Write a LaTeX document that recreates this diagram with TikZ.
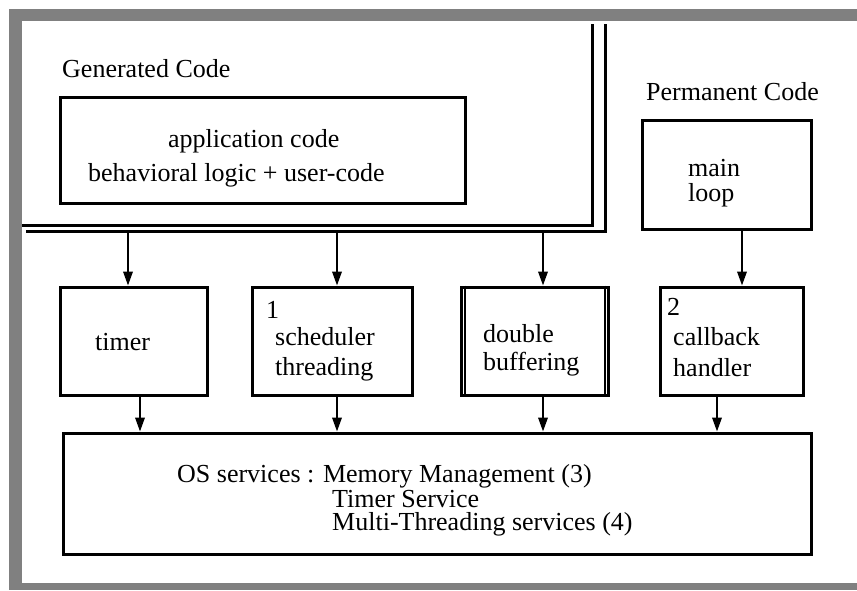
\documentclass[tikz,border=0pt]{standalone}
\usepackage{fontspec}
\setmainfont{Liberation Serif}
\usetikzlibrary{arrows.meta}
\begin{document}
\begin{tikzpicture}[x=1pt,y=-1pt,
  boxnode/.style={draw=black,line width=3pt,inner sep=0pt,fill=white},
  txt/.style={inner sep=0pt,anchor=base west,font=\fontsize{26}{30}\selectfont},
  arr/.style={line width=2pt,-{Triangle[length=14pt,width=9.5pt]}},
  dline/.style={line width=3pt}]
\useasboundingbox (0,0) rectangle (857,590);
% frame
\fill[gray] (9,9) rectangle (857,590);
\fill[white] (22,21) rectangle (857,583);
% double boundary of generated code area
\coordinate (h1a) at (22,225);
\coordinate (h1b) at (592,225);
\coordinate (v1t) at (592,24);
\coordinate (h2a) at (26,231);
\coordinate (h2b) at (605,231);
\coordinate (v2t) at (605,24);
\draw[dline] (h1a) -- (h1b) -- (v1t);
\draw[dline] (h2a) -- (h2b) -- (v2t);
% boxes
\node[boxnode,minimum width=405pt,minimum height=106pt] (app) at (262.5,150) {};
\node[boxnode,minimum width=169pt,minimum height=109pt] (mainloop) at (726.5,174.5) {};
\node[boxnode,minimum width=147pt,minimum height=108pt] (timer) at (133.5,341) {};
\node[boxnode,minimum width=160pt,minimum height=108pt] (sched) at (332,341) {};
\node[boxnode,minimum width=147pt,minimum height=108pt] (dbuf) at (534.5,341) {};
\node[boxnode,minimum width=143pt,minimum height=108pt] (cb) at (731.5,341) {};
\node[boxnode,minimum width=748pt,minimum height=121pt] (os) at (437,493.5) {};
% inner lines of double buffering box
\draw[line width=2pt] ([xshift=5pt]dbuf.north west) -- ([xshift=5pt]dbuf.south west);
\draw[line width=2pt] ([xshift=-5pt]dbuf.north east) -- ([xshift=-5pt]dbuf.south east);
% texts
\node[txt] (tgen) at (62,77) {Generated Code};
\node[txt] (tperm) at (646,100) {Permanent Code};
\node[txt] (tapp1) at (168,147) {application code};
\node[txt] (tapp2) at (88,181) {behavioral logic + user-code};
\node[txt] (tml1) at (688,176) {main};
\node[txt] (tml2) at (688,201) {loop};
\node[txt] (ttimer) at (95,350) {timer};
\node[txt] (ts0) at (266,318) {1};
\node[txt] (ts1) at (275,345) {scheduler};
\node[txt] (ts2) at (275,375) {threading};
\node[txt] (td1) at (483,342) {double};
\node[txt] (td2) at (483,370) {buffering};
\node[txt] (tc0) at (667,315) {2};
\node[txt] (tc1) at (673,345) {callback};
\node[txt] (tc2) at (673,376) {handler};
\node[txt] (to1) at (177,482) {OS services : Memory Management (3)};
\node[txt] (to2) at (332,507) {Timer Service};
\node[txt] (to3) at (332,530) {Multi-Threading services (4)};
% arrows from generated code boundary
\coordinate (g1) at (128,231);
\coordinate (g2) at (337,231);
\coordinate (g3) at (543,231);
\draw[arr] (g1) -- (timer.north -| g1);
\draw[arr] (g2) -- (sched.north -| g2);
\draw[arr] (g3) -- (dbuf.north -| g3);
\coordinate (m1) at (742,0);
\draw[arr] (mainloop.south -| m1) -- (cb.north -| m1);
% arrows to OS
\coordinate (o1) at (140,0);
\coordinate (o2) at (337,0);
\coordinate (o3) at (543,0);
\coordinate (o4) at (717,0);
\draw[arr] (timer.south -| o1) -- (os.north -| o1);
\draw[arr] (sched.south -| o2) -- (os.north -| o2);
\draw[arr] (dbuf.south -| o3) -- (os.north -| o3);
\draw[arr] (cb.south -| o4) -- (os.north -| o4);
\end{tikzpicture}
\end{document}
